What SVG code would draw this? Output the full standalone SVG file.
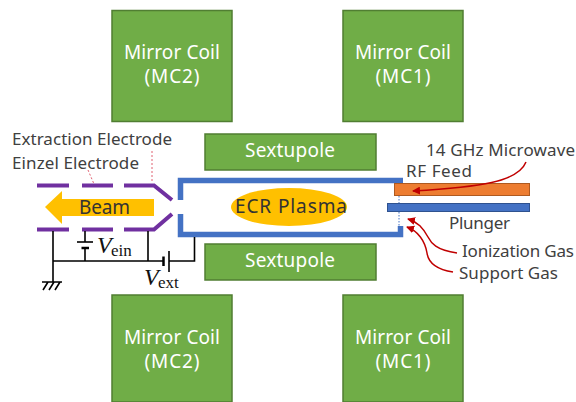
<svg xmlns="http://www.w3.org/2000/svg" width="576" height="402" viewBox="0 0 576 402">
<style>
text{font-family:"Noto Sans","Liberation Sans",sans-serif;font-size:17px;fill:#404040}
.g{fill:#70ad47;stroke:#507e32;stroke-width:1.5}
.w{fill:#fff;font-size:19px;text-anchor:middle}
.p{fill:none;stroke:#7030a0;stroke-width:4}
.b{fill:none;stroke:#4472c4;stroke-width:5.500}
.k{fill:none;stroke:#000;stroke-width:1.6}
.r{fill:none;stroke:#c00000;stroke-width:1.5}
.d{fill:none;stroke:#e06070;stroke-width:1;stroke-dasharray:2 2}
.i{font-family:"Liberation Serif",serif;fill:#111;font-size:24px;font-style:italic}
.s{font-family:"Liberation Serif",serif;fill:#111;font-size:17px}
</style>
<defs><marker id="a" markerUnits="userSpaceOnUse" markerWidth="9" markerHeight="8" refX="7" refY="4" orient="auto"><path d="M0 0L8 4L0 8z" fill="#c00000"/></marker></defs>
<g id="mc2-top"><rect class="g" x="112" y="10.500" width="120" height="111"/><text class="w" x="172" y="59" textLength="96">Mirror Coil</text><text class="w" x="172" y="83" textLength="55">(MC2)</text></g>
<g id="mc1-top"><rect class="g" x="343" y="10.500" width="120" height="111"/><text class="w" x="403" y="59" textLength="96">Mirror Coil</text><text class="w" x="403" y="83" textLength="55">(MC1)</text></g>
<g id="mc2-bottom"><rect class="g" x="112" y="295" width="120" height="107"/><text class="w" x="172" y="344" textLength="96">Mirror Coil</text><text class="w" x="172" y="368" textLength="55">(MC2)</text></g>
<g id="mc1-bottom"><rect class="g" x="343" y="295" width="120" height="107"/><text class="w" x="403" y="344" textLength="96">Mirror Coil</text><text class="w" x="403" y="368" textLength="55">(MC1)</text></g>
<g id="sextupole-top"><rect class="g" x="205" y="134" width="171" height="36"/><text class="w" x="290" y="157" textLength="90">Sextupole</text></g>
<g id="sextupole-bottom"><rect class="g" x="205" y="244" width="171" height="36"/><text class="w" x="290" y="267" textLength="90">Sextupole</text></g>
<g id="chamber"><path class="b" d="M180.500 200V180.500H403"/><path class="b" d="M180.500 214V234.500H400.500V226"/></g>
<g id="plasma"><ellipse cx="289" cy="207" rx="58" ry="19" fill="#ffc000"/><text x="235" y="213" style="font-size:19px;fill:#333" textLength="112">ECR Plasma</text></g>
<g id="rf-feed"><rect x="394.500" y="183.500" width="135" height="12" fill="#ed7d31" stroke="#ae5a21"/><text x="406" y="177" textLength="66">RF Feed</text></g>
<g id="plunger"><rect x="387.500" y="203.500" width="142" height="8" fill="#4472c4" stroke="#2f528f"/><text x="449" y="229" textLength="61">Plunger</text></g>
<g id="beam"><path d="M45 207L62 191V199H154V216H62V224z" fill="#ffc000"/><text x="79" y="214" style="font-size:19px;fill:#333" textLength="51">Beam</text></g>
<g id="electrodes">
<path class="p" d="M37 185.500H69M82 185.500H113M124 185.500H154L172 200"/>
<path class="p" d="M37 229.500H69M82 229.500H113M124 229.500H154L172 214"/>
</g>
<g id="connectors">
<path class="k" d="M53 231V282M53 261H163M85 231V242M85 248V261M148 231V261"/>
<path class="k" d="M77 242H93" stroke-width="2"/><path d="M81.500 248H89" stroke="#000" stroke-width="2.500"/>
<path d="M163.500 256.500V266" stroke="#000" stroke-width="2.500"/><path class="k" d="M169 251V272M169 261H194.500V237"/>
<path class="k" d="M42 282H62M43 290L48 282M49 290L54 282M55 290L60 282"/>
<path class="d" d="M88 170L94 184M152 151V183"/>
<path d="M399 196V203M399 212V226" stroke="#4472c4" stroke-dasharray="1.500 1.500" fill="none"/>
<path class="r" marker-end="url(#a)" d="M526 162C518 182 480 187 413 191"/>
<path class="r" marker-end="url(#a)" d="M457 253C436 250 431 243 428 237C423 228 418 222 408 219"/>
<path class="r" marker-end="url(#a)" d="M453 272C433 269 428 260 427 253C425 241 418 231 407 227"/>
</g>
<g id="labels">
<text x="12" y="145" textLength="160">Extraction Electrode</text>
<text x="12" y="169" textLength="127">Einzel Electrode</text>
<text x="426" y="156" textLength="149">14 GHz Microwave</text>
<text x="462" y="257" textLength="112">Ionization Gas</text>
<text x="459" y="279" textLength="99">Support Gas</text>
<text class="i" x="97" y="253">V</text><text class="s" x="111" y="256">ein</text>
<text class="i" x="144" y="285">V</text><text class="s" x="158" y="288">ext</text>
</g>
</svg>
